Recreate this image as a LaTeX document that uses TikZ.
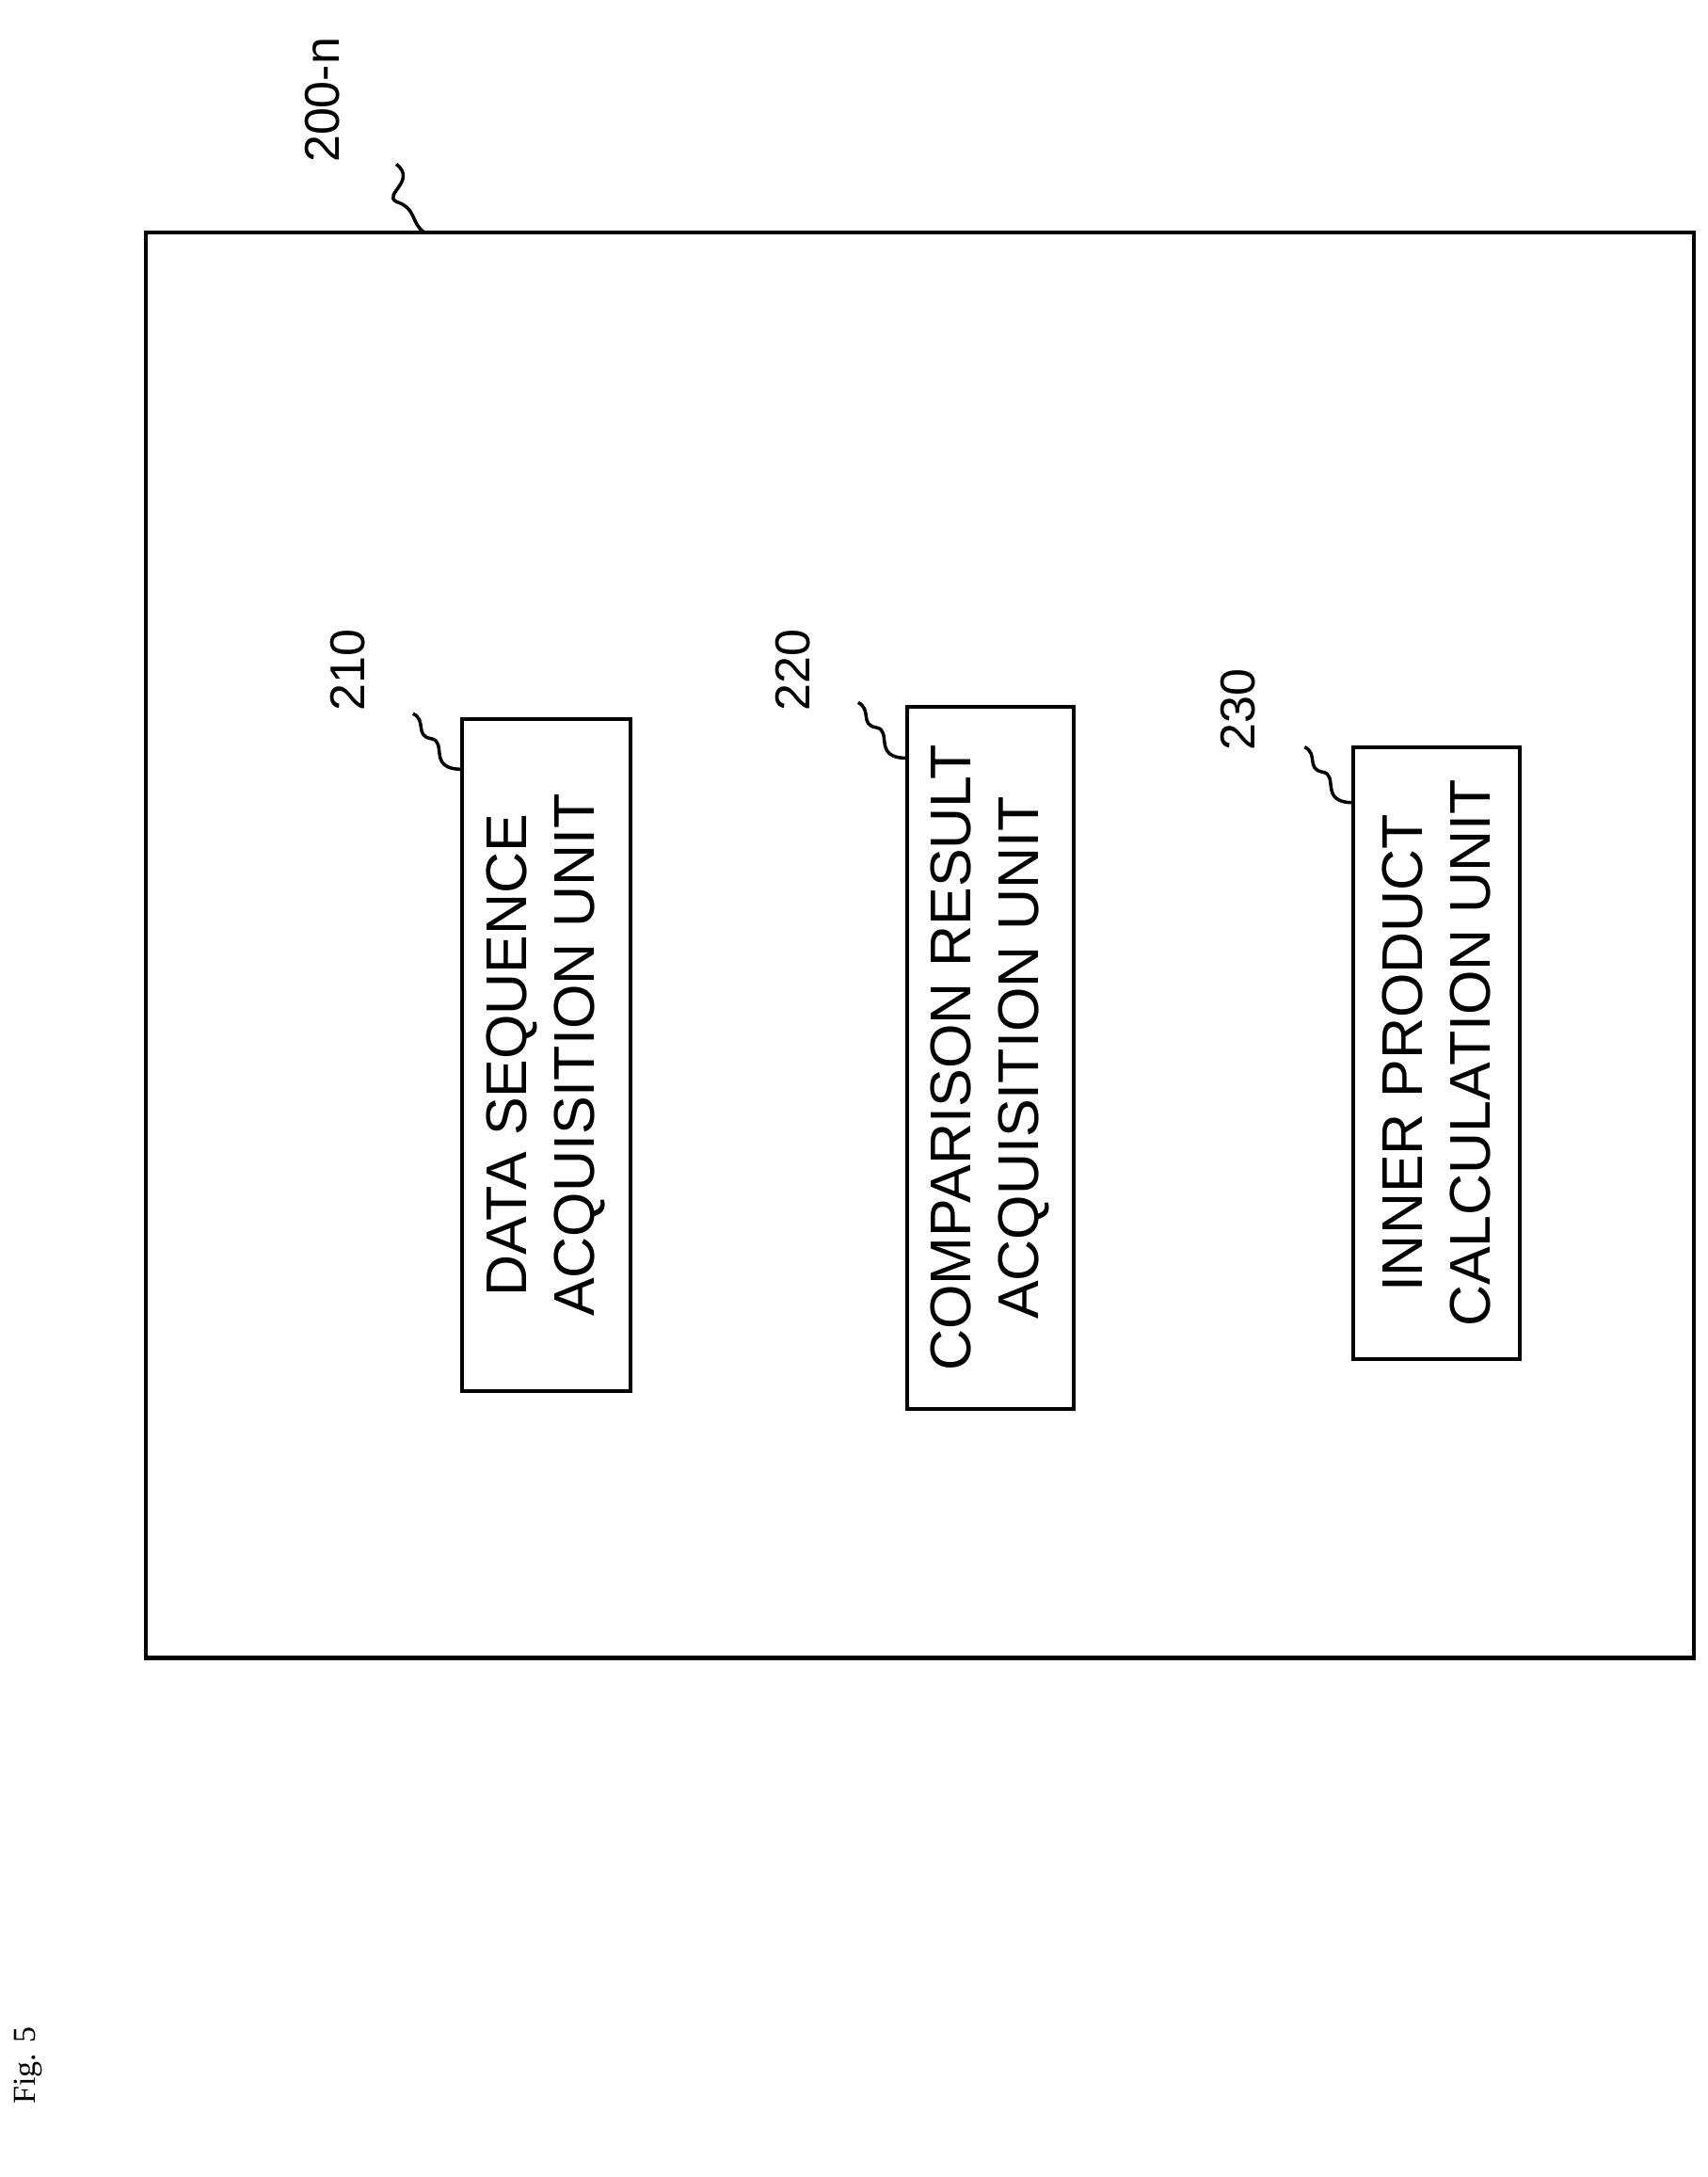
\documentclass[tikz,border=0pt]{standalone}
\usetikzlibrary{calc}
\usepackage{fontspec}
\setmainfont{Liberation Sans}
\newfontfamily\seriff{Liberation Serif}
\begin{document}
\begin{tikzpicture}[x=1.478pt,y=-1.478pt,
  unit/.style={draw,line width=4pt,rotate=90,align=center,inner sep=0pt,font=\fontsize{61}{72}\selectfont},
  lab/.style={rotate=90,font=\fontsize{52}{60}\selectfont},
  lead/.style={line width=3.5pt}]
\useasboundingbox (0,0) rectangle (1228,1565);
\node[draw,line width=4.5pt,minimum width=1113*1.478pt,minimum height=1025*1.478pt,inner sep=0pt] (outer) at (661.5,679.5) {};
\node[unit,minimum width=714pt,minimum height=179pt] (u210) at (392.5,758.5) {DATA SEQUENCE\\ACQUISITION UNIT};
\node[unit,minimum width=746pt,minimum height=177pt] (u220) at (712,760.5) {COMPARISON RESULT\\ACQUISITION UNIT};
\node[unit,minimum width=650pt,minimum height=177pt] (u230) at (1033,757) {INNER PRODUCT\\CALCULATION UNIT};
\node[lab] (l210) at (250,482) {210};
\node[lab] (l220) at (570,482) {220};
\node[lab] (l230) at (890,510) {230};
\node[lab] (l200) at (232,72) {200-n};
\node[rotate=90,font=\seriff\fontsize{34}{40}\selectfont] (fig) at (20,1485) {Fig. 5};
\coordinate (c210) at (332,553);
\coordinate (c220) at (652,545);
\coordinate (c230) at (973,577);
\coordinate (c200) at (305,167);
\foreach \c in {c210,c220,c230}{
  \draw[lead] (\c) .. controls ($(\c)+(-25,0)$) and ($(\c)+(-10,-20)$) .. ($(\c)+(-22,-22)$)
    .. controls ($(\c)+(-34,-24)$) and ($(\c)+(-25,-35)$) .. ($(\c)+(-35,-40)$);
}
\draw[lead] (c200) .. controls (295,160) and (300,150) .. (285,145) .. controls (275,140) and (300,130) .. (285,118);
\end{tikzpicture}
\end{document}
